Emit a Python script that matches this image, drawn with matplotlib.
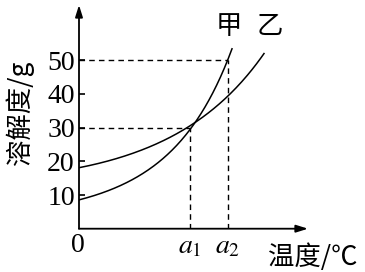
#!/usr/bin/env python3

import numpy as np
import matplotlib.pyplot as plt

# temperatures (arbitrary units, origin = 0) and solubility
jia_t = [0, 36, 76, 106, 111, 134, 149, 153]
jia_s = [8.5, 12.3, 18.6, 27.3, 30, 40.2, 50, 53.8]
yi_t = [0, 36, 76, 111, 149, 168, 185]
yi_s = [17.6, 21.6, 25.3, 30, 38.2, 45.1, 53.5]

a1, a2 = 111, 149
yticks = [10, 20, 30, 40, 50]
x_end, y_end = 229, 66.4

serif = ['Liberation Serif', 'DejaVu Serif']
cjk = ['Noto Sans CJK SC', 'DejaVu Sans']

fig = plt.figure(figsize=(3.65, 2.72), dpi=100)
W, H = 365, 272
ax = fig.add_axes([79 / W, (H - 228.7) / H, x_end / W, (228.7 - 5) / H])
ax.set_xlim(0, x_end)
ax.set_ylim(0, y_end)
for s in ax.spines.values():
    s.set_visible(False)

# axes with arrow heads
arrow = dict(arrowstyle='-|>,head_length=0.7,head_width=0.22', color='black',
             lw=1.3, shrinkA=0, shrinkB=0)
ax.annotate('', xy=(x_end, 0), xytext=(0, 0), arrowprops=arrow, annotation_clip=False)
ax.annotate('', xy=(0, y_end), xytext=(0, 0), arrowprops=arrow, annotation_clip=False)

# smooth curves through the read points (fit in log space keeps them convex)
def smooth(t, s, deg=2):
    c = np.polyfit(t, np.log(s), deg)
    tt = np.linspace(t[0], t[-1], 200)
    return tt, np.exp(np.polyval(c, tt))

ax.plot(*smooth(jia_t, jia_s), color='black', lw=1.1)
ax.plot(*smooth(yi_t, yi_s), color='black', lw=1.1)

# guide lines
dash = dict(color='black', lw=1.0, ls=(0, (4, 3)))
ax.plot([0, a2], [50, 50], **dash)
ax.plot([a2, a2], [0, 50], **dash)
ax.plot([0, a1], [30, 30], **dash)
ax.plot([a1, a1], [0, 30], **dash)

ax.set_xticks([])
ax.set_yticks(yticks)
ax.tick_params(axis='y', direction='in', length=4, width=1.2, pad=3)
ax.set_yticklabels([str(v) for v in yticks], family=serif, fontsize=20)

ax.text(-1, -1.2, '0', family=serif, fontsize=20, ha='center', va='top')
ax.text(a1, -0.8, '$a_1$', fontsize=20, ha='center', va='top', math_fontfamily='stix')
ax.text(a2, -0.8, '$a_2$', fontsize=20, ha='center', va='top', math_fontfamily='stix')

fig.text(313 / W, (H - 257) / H, '温度/℃', family=cjk, fontsize=19, ha='center', va='center')
fig.text(20 / W, (H - 113) / H, '溶解度/g', family=cjk, fontsize=19, rotation=90,
         ha='center', va='center')
fig.text(229 / W, (H - 26) / H, '甲', family=cjk, fontsize=19, ha='center', va='center')
fig.text(270 / W, (H - 26) / H, '乙', family=cjk, fontsize=19, ha='center', va='center')

plt.savefig('out.png', dpi=100)
